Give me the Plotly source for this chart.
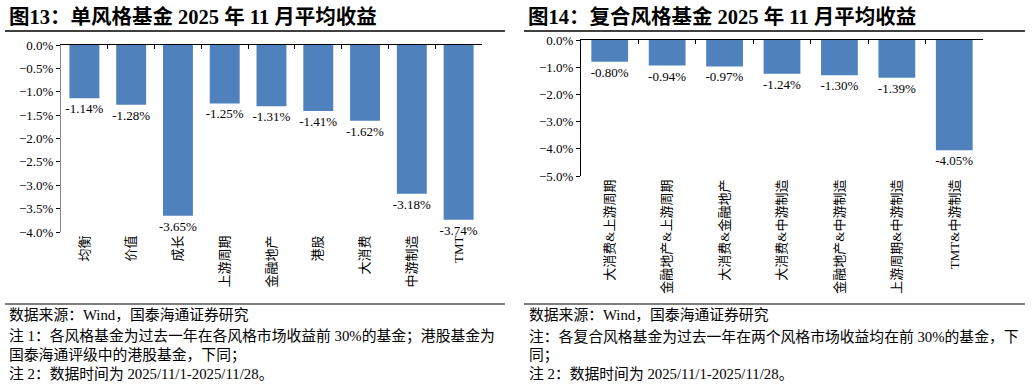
import plotly.graph_objects as go

# ---------------- data ----------------
left_categories = ["均衡", "价值", "成长", "上游周期", "金融地产", "港股", "大消费", "中游制造", "TMT"]
left_values = [-1.14, -1.28, -3.65, -1.25, -1.31, -1.41, -1.62, -3.18, -3.74]

right_categories = ["大消费&上游周期", "金融地产&上游周期", "大消费&金融地产", "大消费&中游制造",
                    "金融地产&中游制造", "上游周期&中游制造", "TMT&中游制造"]
right_values = [-0.80, -0.94, -0.97, -1.24, -1.30, -1.39, -4.05]

left_title = "图13：单风格基金 2025 年 11 月平均收益"
right_title = "图14：复合风格基金 2025 年 11 月平均收益"
left_notes = ["数据来源：Wind，国泰海通证券研究",
              "注 1：各风格基金为过去一年在各风格市场收益前 30%的基金；港股基金为",
              "国泰海通评级中的港股基金，下同；",
              "注 2：数据时间为 2025/11/1-2025/11/28。"]
right_notes = ["数据来源：Wind，国泰海通证券研究",
               "注：各复合风格基金为过去一年在两个风格市场收益均在前 30%的基金，下",
               "同；",
               "注 2：数据时间为 2025/11/1-2025/11/28。"]

# ---------------- style ----------------
W, H = 1032, 386
FONT = "Liberation Serif, Noto Sans CJK SC, serif"
BAR = "#4F81BD"

def px(x):
    return x / W

def py(y):
    return 1 - y / H

fig = go.Figure()

# visible bars (on label axes)
fig.add_trace(go.Bar(x=left_categories, y=left_values, marker_color=BAR,
                     marker_line_width=0, text=left_values,
                     texttemplate="%{y:.2f}%", textposition="outside",
                     constraintext="none",
                     textfont=dict(family=FONT, size=13, color="#000"),
                     cliponaxis=False, xaxis="x", yaxis="y", showlegend=False))
fig.add_trace(go.Bar(x=right_categories, y=right_values, marker_color=BAR,
                     marker_line_width=0, text=right_values,
                     texttemplate="%{y:.2f}%", textposition="outside",
                     constraintext="none",
                     textfont=dict(family=FONT, size=13, color="#000"),
                     cliponaxis=False, xaxis="x2", yaxis="y2", showlegend=False))
# hidden duplicates that drive the top (zero) axis line with boundary ticks
fig.add_trace(go.Bar(x=left_categories, y=left_values, marker_opacity=0,
                     hoverinfo="skip", xaxis="x3", yaxis="y", showlegend=False))
fig.add_trace(go.Bar(x=right_categories, y=right_values, marker_opacity=0,
                     hoverinfo="skip", xaxis="x4", yaxis="y2", showlegend=False))

L_dom = [px(61), px(482)]
R_dom = [px(581), px(983)]
L_y = [py(232), py(45)]
R_y = [py(176), py(40)]

cat_axis = dict(showline=False, ticks="", showgrid=False, tickangle=-90, automargin=False,
                tickfont=dict(family=FONT, size=13, color="#000"), side="bottom")
top_axis = dict(showline=True, linecolor="#000", linewidth=1, ticks="inside",
                ticklen=4, tickcolor="#000", tickson="boundaries", automargin=False,
                showticklabels=False, showgrid=False, side="top")
ytick = dict(ticks="outside", ticklen=4, tickcolor="#000", showgrid=False,
             zeroline=False, automargin=False, tickformat=".1f", ticksuffix="%",
             tickfont=dict(family=FONT, size=13, color="#000"))

fig.update_layout(
    width=W, height=H, margin=dict(l=0, r=0, t=0, b=0, autoexpand=False),
    paper_bgcolor="white", plot_bgcolor="white",
    bargap=0.36, barmode="overlay",
    xaxis=dict(domain=L_dom, anchor="y", **cat_axis),
    xaxis2=dict(domain=R_dom, anchor="y2", **cat_axis),
    xaxis3=dict(overlaying="x", anchor="y", **top_axis),
    xaxis4=dict(overlaying="x2", anchor="y2", **top_axis),
    yaxis=dict(domain=L_y, anchor="x", range=[-4, 0], dtick=0.5,
               showline=True, linecolor="#888", linewidth=1, **ytick),
    yaxis2=dict(domain=R_y, anchor="x2", range=[-5, 0], dtick=1,
                showline=True, linecolor="#000", linewidth=1, **ytick),
)

shapes = []
for x0, x1 in [(5, 505), (524, 1025)]:
    shapes.append(dict(type="line", xref="paper", yref="paper", x0=px(x0), x1=px(x1),
                       y0=py(31), y1=py(31), line=dict(color="#000", width=1.5)))
    shapes.append(dict(type="line", xref="paper", yref="paper", x0=px(x0), x1=px(x1),
                       y0=py(304), y1=py(304), line=dict(color="#555", width=1.5)))
fig.update_layout(shapes=shapes)

ann = []
for x0, title in [(7, left_title), (526, right_title)]:
    ann.append(dict(text="<b>" + title + "</b>", x=px(x0), y=py(16), xref="paper", yref="paper",
                    xanchor="left", yanchor="middle", showarrow=False,
                    font=dict(family=FONT, size=20.5, color="#000")))
for x0, notes in [(7, left_notes), (527, right_notes)]:
    for yy, t in zip([315, 336, 355, 374], notes):
        ann.append(dict(text=t, x=px(x0), y=py(yy), xref="paper", yref="paper",
                        xanchor="left", yanchor="middle", showarrow=False,
                        font=dict(family=FONT, size=14.8, color="#000")))
fig.update_layout(annotations=ann)

fig.write_html("out.html", config={"displayModeBar": False},
               post_script="document.body.style.margin='0';document.body.style.overflow='hidden';")
